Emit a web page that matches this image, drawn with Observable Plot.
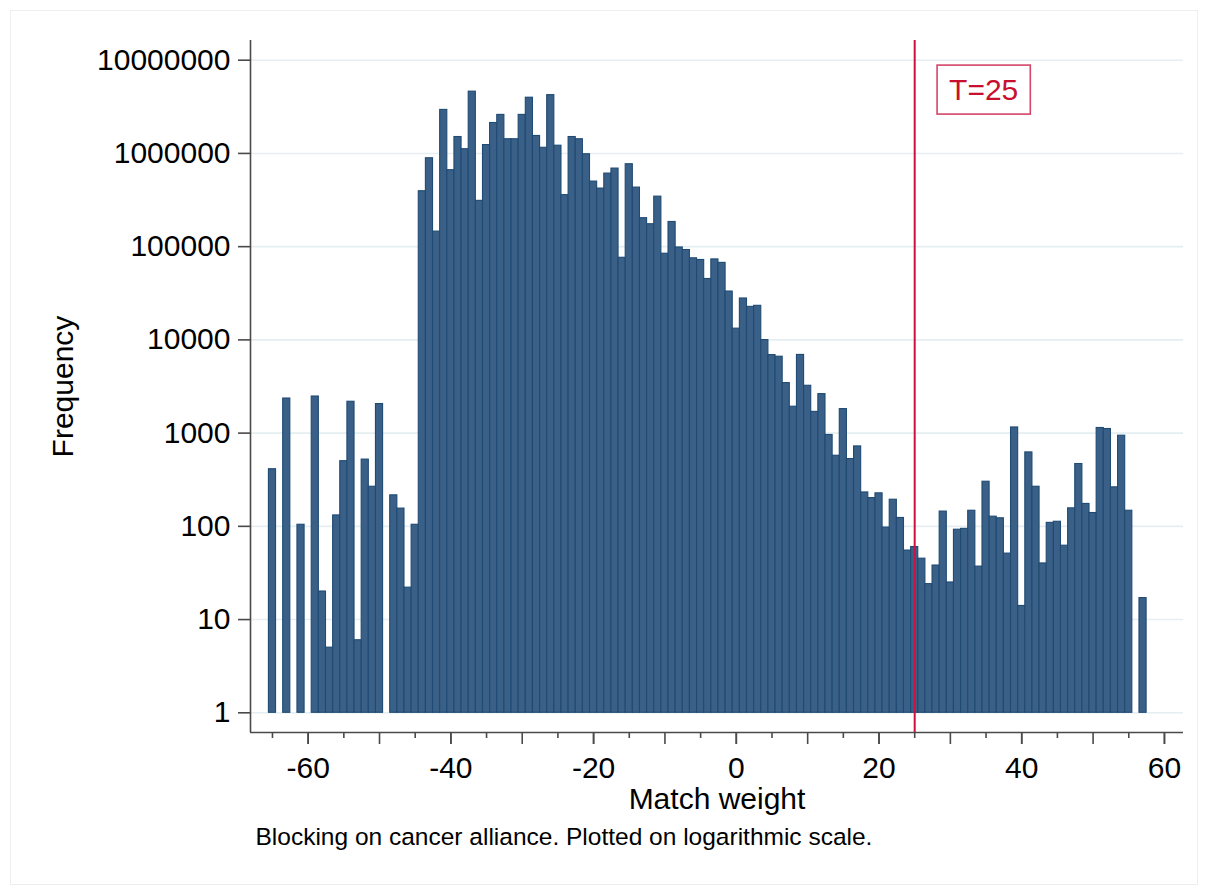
<!DOCTYPE html>
<html>
<head>
<meta charset="utf-8">
<script src="https://cdn.jsdelivr.net/npm/d3@7"></script>
<script src="https://cdn.jsdelivr.net/npm/@observablehq/plot@0.6"></script>
<style>
  html, body { margin: 0; padding: 0; background: #fff; }
  #wrap { position: relative; width: 1208px; height: 889px; overflow: hidden; }
  #border { position: absolute; left: 10px; top: 10px; width: 1188px; height: 875px; border: 1px solid #eeeeee; box-sizing: border-box; pointer-events: none; }
</style>
</head>
<body>
<div id="wrap"><div id="border"></div></div>
<script>
// Match weight bin centres (width 1) and frequencies; null = empty bin
const matchWeights = [
  -65,-64,-63,-62,-61,-60,-59,-58,-57,-56,-55,-54,-53,-52,-51,-50,-49,-48,-47,-46,
  -45,-44,-43,-42,-41,-40,-39,-38,-37,-36,-35,-34,-33,-32,-31,-30,-29,-28,-27,-26,
  -25,-24,-23,-22,-21,-20,-19,-18,-17,-16,-15,-14,-13,-12,-11,-10,-9,-8,-7,-6,
  -5,-4,-3,-2,-1,0,1,2,3,4,5,6,7,8,9,10,11,12,13,14,
  15,16,17,18,19,20,21,22,23,24,25,26,27,28,29,30,31,32,33,34,
  35,36,37,38,39,40,41,42,43,44,45,46,47,48,49,50,51,52,53,54,
  55,56,57
];
const frequencies = [
  410,null,2350,null,104,null,2470,20,5,131,500,2170,6,520,266,2050,null,215,155,22,
  104,393000,888000,145000,2930000,661000,1500000,1110000,4600000,310000,1230000,2120000,2590000,1420000,1420000,2590000,3960000,1540000,1150000,4220000,
  1210000,357000,1500000,1420000,980000,499000,420000,608000,688000,76000,766000,430000,202000,174000,344000,84000,184000,98000,92000,75000,
  72000,45000,73000,67000,33000,13200,27800,22600,23200,9950,6870,6600,3440,1920,6900,3220,1690,2620,955,572,
  1810,527,720,231,201,226,97,193,123,55,60,45,24,38,144,25,92,94,147,37,
  301,127,122,51,1150,14,621,266,40,109,112,62,156,466,174,139,1135,1107,262,938,
  147,null,17
];
const yTicks = [1, 10, 100, 1000, 10000, 100000, 1000000, 10000000];
const xLabelTicks = [-60, -40, -20, 0, 20, 40, 60];
const xMajorTicks = [-60, -50, -40, -30, -20, -10, 0, 10, 20, 30, 40, 50, 60];
const xMinorTicks = [-65, -55, -45, -35, -25, -15, -5, 5, 15, 25, 35, 45, 55];
const thresholds = [25];
const xTitle = "Match weight";
const yTitle = "Frequency";
const captionText = "Blocking on cancer alliance. Plotted on logarithmic scale.";

const bins = matchWeights
  .map((w, i) => ({w, f: frequencies[i]}))
  .filter(d => d.f != null && d.f > 0);

const axisColor = "#4a4a4a";
const red = "#cf1040";

const chart = Plot.plot({
  width: 1208,
  height: 889,
  marginLeft: 250,
  marginRight: 25,
  marginTop: 40,
  marginBottom: 157,
  style: {fontFamily: "'Liberation Sans', Arial, sans-serif", fontSize: "30px", color: "#000", background: "transparent", overflow: "visible"},
  x: {domain: [-68.08, 62.67], label: null},
  y: {type: "log", domain: [Math.pow(10, -0.2113), Math.pow(10, 7.2113)], label: null},
  marks: [
    Plot.ruleY(yTicks, {stroke: "#e5eef1", strokeWidth: 1.6}),
    Plot.rect(bins, {
      x1: d => d.w - 0.5, x2: d => d.w + 0.5,
      y1: () => 1, y2: d => d.f,
      fill: "#3a6087", stroke: "#1f4a73", strokeWidth: 1.1
    }),
    Plot.ruleX([-68.08], {stroke: axisColor, strokeWidth: 1.6}),
    Plot.ruleY([Math.pow(10, -0.2113)], {stroke: axisColor, strokeWidth: 1.6}),
    Plot.axisY({ticks: yTicks, tickFormat: d => String(d), tickSize: 12, tickPadding: 8, stroke: axisColor, strokeWidth: 1.6, fontSize: 30, label: null}),
    Plot.axisX({ticks: xMinorTicks, tickFormat: () => "", tickSize: 6, stroke: axisColor, strokeWidth: 1.6, label: null}),
    Plot.axisX({ticks: xMajorTicks, tickFormat: () => "", tickSize: 12, stroke: axisColor, strokeWidth: 1.6, label: null}),
    Plot.axisX({ticks: xLabelTicks, tickFormat: d => String(d), tickSize: 12, tickPadding: 12, stroke: axisColor, strokeWidth: 1.6, fontSize: 30, label: null}),
    Plot.ruleX(thresholds, {stroke: red, strokeWidth: 2}),
    Plot.text(thresholds, {x: d => d, text: d => `T=${d}`, frameAnchor: "top", lineAnchor: "middle", textAnchor: "middle", dx: 69, dy: 50, fill: "#c8102e", fontSize: 30}),
    Plot.text([xTitle], {frameAnchor: "bottom", lineAnchor: "middle", textAnchor: "middle", dy: 67, fontSize: 30, fill: "#000"}),
    Plot.text([yTitle], {frameAnchor: "left", lineAnchor: "middle", textAnchor: "middle", rotate: -90, dx: -187, fontSize: 30, fill: "#000"}),
    Plot.text([captionText], {frameAnchor: "bottom-left", lineAnchor: "middle", textAnchor: "start", dx: 5, dy: 105, fontSize: 24.5, fill: "#000"})
  ]
});

document.getElementById("wrap").appendChild(chart);

// Box around the threshold label
const labelG = chart.querySelector('g[fill="#c8102e"]');
if (labelG) {
  const bb = labelG.getBBox();
  const padX = 12, padY = 10;
  const r = document.createElementNS("http://www.w3.org/2000/svg", "rect");
  r.setAttribute("x", bb.x - padX);
  r.setAttribute("y", bb.y - padY + 2);
  r.setAttribute("width", bb.width + 2 * padX);
  r.setAttribute("height", bb.height + 2 * padY - 4);
  r.setAttribute("fill", "#ffffff");
  r.setAttribute("stroke", "#d4456a");
  r.setAttribute("stroke-width", "1.6");
  labelG.insertBefore(r, labelG.firstChild);
}
</script>
</body>
</html>
